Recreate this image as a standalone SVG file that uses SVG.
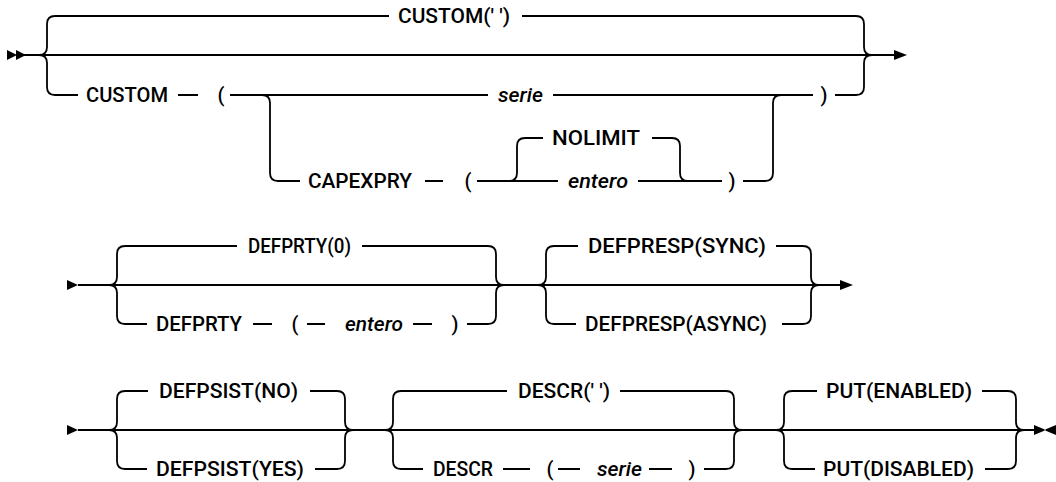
<svg xmlns="http://www.w3.org/2000/svg" width="1056" height="482" viewBox="0 0 1056 482">
<style>
.ln{fill:none;stroke:#000;stroke-width:1.8}
.ar{fill:#000;stroke:none}
text{font-family:Roboto,"Liberation Sans",Arial,sans-serif;font-size:20px;font-weight:500;fill:#000}
.it{font-style:italic}
.p{text-anchor:middle}
</style>
<rect width="1056" height="482" fill="#fff"/>
<g id="connectors">
<path class="ar" d="M7,50 L17,55 L7,60 Z M16,50 L26,55 L16,60 Z"/>
<path class="ln" d="M24,55 H894"/>
<path class="ar" d="M894,50 L907,55 L894,60 Z"/>
<path class="ln" d="M39,55 Q47,55 47,47 V24 Q47,16 55,16 H389 M522,16 H856 Q864,16 864,24 V47 Q864,55 872,55"/>
<path class="ln" d="M39,55 Q47,55 47,63 V87 Q47,95 55,95 H78 M178,95 H198 M230,95 H488 M553,95 H813 M835,95 H856 Q864,95 864,87 V63 Q864,55 872,55"/>
<path class="ln" d="M262,95 Q270,95 270,103 V173 Q270,181 278,181 H300 M425,181 H443 M477,181 H558 M638,181 H722 M743,181 H765 Q773,181 773,173 V103 Q773,95 781,95"/>
<path class="ln" d="M509,181 Q517,181 517,173 V146 Q517,138 525,138 H543 M652,138 H672 Q680,138 680,146 V173 Q680,181 688,181"/>
<path class="ar" d="M67,280 L78,285 L67,290 Z"/>
<path class="ln" d="M78,285 H840"/>
<path class="ar" d="M840,280 L853,285 L840,290 Z"/>
<path class="ln" d="M109,285 Q117,285 117,277 V254 Q117,246 125,246 H237 M362,246 H488 Q496,246 496,254 V277 Q496,285 504,285"/>
<path class="ln" d="M109,285 Q117,285 117,293 V316 Q117,324 125,324 H147 M253,324 H272 M307,324 H325 M413,324 H432 M467,324 H488 Q496,324 496,316 V293 Q496,285 504,285"/>
<path class="ln" d="M538,285 Q546,285 546,277 V254 Q546,246 554,246 H578 M776,246 H803 Q811,246 811,254 V277 Q811,285 819,285"/>
<path class="ln" d="M538,285 Q546,285 546,293 V316 Q546,324 554,324 H576 M782,324 H803 Q811,324 811,316 V293 Q811,285 819,285"/>
<path class="ar" d="M67,425 L78,430 L67,435 Z"/>
<path class="ln" d="M78,430 H1036"/>
<path class="ar" d="M1034,425 L1046,430 L1034,435 Z M1056,425 L1044,430 L1056,435 Z"/>
<path class="ln" d="M109,430 Q117,430 117,422 V399 Q117,391 125,391 H148 M310,391 H337 Q345,391 345,399 V422 Q345,430 353,430"/>
<path class="ln" d="M109,430 Q117,430 117,438 V461 Q117,469 125,469 H147 M315,469 H337 Q345,469 345,461 V438 Q345,430 353,430"/>
<path class="ln" d="M385,430 Q393,430 393,422 V399 Q393,391 401,391 H507 M620,391 H726 Q734,391 734,399 V422 Q734,430 742,430"/>
<path class="ln" d="M385,430 Q393,430 393,438 V461 Q393,469 401,469 H423 M503,469 H530 M558,469 H580 M649,469 H672 M704,469 H726 Q734,469 734,461 V438 Q734,430 742,430"/>
<path class="ln" d="M776,430 Q784,430 784,422 V399 Q784,391 792,391 H817 M982,391 H1008 Q1016,391 1016,399 V422 Q1016,430 1024,430"/>
<path class="ln" d="M776,430 Q784,430 784,438 V461 Q784,469 792,469 H815 M985,469 H1008 Q1016,469 1016,461 V438 Q1016,430 1024,430"/>
</g>
<g id="n-custom-default"><text x="398" y="23" textLength="112" lengthAdjust="spacingAndGlyphs">CUSTOM(' ')</text></g>
<g id="n-custom"><text x="86" y="102" textLength="82" lengthAdjust="spacingAndGlyphs">CUSTOM</text></g>
<g id="n-custom-lp"><text class="p" x="221" y="102">(</text></g>
<g id="n-serie1"><text class="it" x="498" y="102" textLength="45" lengthAdjust="spacingAndGlyphs">serie</text></g>
<g id="n-custom-rp"><text class="p" x="824" y="102">)</text></g>
<g id="n-capexpry"><text x="308" y="188" textLength="104" lengthAdjust="spacingAndGlyphs">CAPEXPRY</text></g>
<g id="n-cap-lp"><text class="p" x="468" y="188">(</text></g>
<g id="n-nolimit"><text x="552" y="145" textLength="88" lengthAdjust="spacingAndGlyphs">NOLIMIT</text></g>
<g id="n-entero1"><text class="it" x="568" y="188" textLength="60" lengthAdjust="spacingAndGlyphs">entero</text></g>
<g id="n-cap-rp"><text class="p" x="732" y="188">)</text></g>
<g id="n-defprty0"><text x="248" y="253" textLength="103" lengthAdjust="spacingAndGlyphs">DEFPRTY(0)</text></g>
<g id="n-defprty"><text x="156" y="331" textLength="86" lengthAdjust="spacingAndGlyphs">DEFPRTY</text></g>
<g id="n-defprty-lp"><text class="p" x="295" y="331">(</text></g>
<g id="n-entero2"><text class="it" x="345" y="331" textLength="58" lengthAdjust="spacingAndGlyphs">entero</text></g>
<g id="n-defprty-rp"><text class="p" x="455" y="331">)</text></g>
<g id="n-defpresp-sync"><text x="588" y="253" textLength="178" lengthAdjust="spacingAndGlyphs">DEFPRESP(SYNC)</text></g>
<g id="n-defpresp-async"><text x="585" y="331" textLength="182" lengthAdjust="spacingAndGlyphs">DEFPRESP(ASYNC)</text></g>
<g id="n-defpsist-no"><text x="159" y="398" textLength="139" lengthAdjust="spacingAndGlyphs">DEFPSIST(NO)</text></g>
<g id="n-defpsist-yes"><text x="156" y="476" textLength="148" lengthAdjust="spacingAndGlyphs">DEFPSIST(YES)</text></g>
<g id="n-descr-default"><text x="518" y="398" textLength="92" lengthAdjust="spacingAndGlyphs">DESCR(' ')</text></g>
<g id="n-descr"><text x="433" y="476" textLength="60" lengthAdjust="spacingAndGlyphs">DESCR</text></g>
<g id="n-descr-lp"><text class="p" x="550" y="476">(</text></g>
<g id="n-serie2"><text class="it" x="597" y="476" textLength="45" lengthAdjust="spacingAndGlyphs">serie</text></g>
<g id="n-descr-rp"><text class="p" x="692" y="476">)</text></g>
<g id="n-put-enabled"><text x="826" y="398" textLength="146" lengthAdjust="spacingAndGlyphs">PUT(ENABLED)</text></g>
<g id="n-put-disabled"><text x="823" y="476" textLength="151" lengthAdjust="spacingAndGlyphs">PUT(DISABLED)</text></g>
</svg>
